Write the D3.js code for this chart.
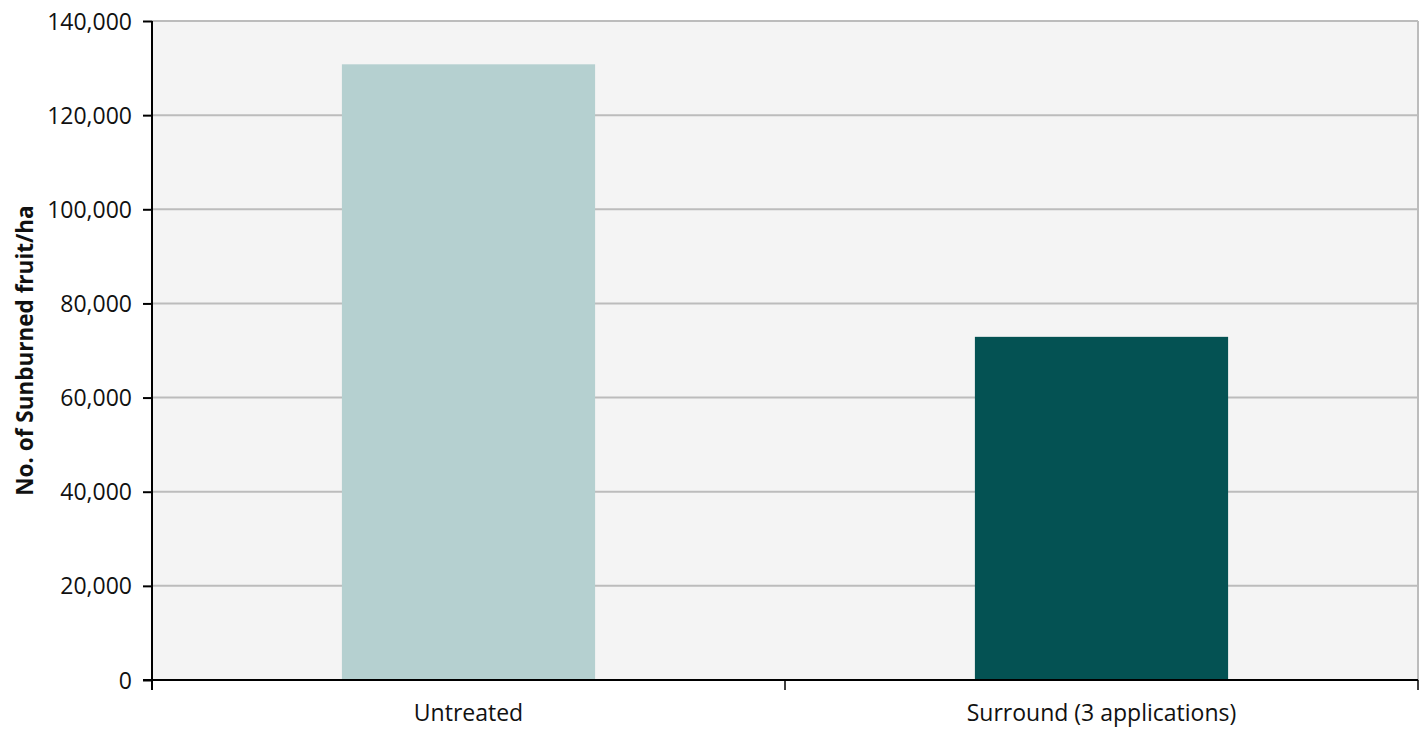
<!DOCTYPE html>
<html><head><meta charset="utf-8">
<script src="https://cdn.jsdelivr.net/npm/d3@7"></script>
<style>
html,body{margin:0;padding:0;background:#fff;}
svg{display:block;}
text{font-family:"Open Sans",sans-serif;fill:#111;}
</style></head>
<body><svg id="c" width="1426" height="731"></svg>
<script>
const categories = ["Untreated", "Surround (3 applications)"];
const values = [130800, 72900];
const barColors = ["#b5d0d0", "#045253"];
const yTicks = [0, 20000, 40000, 60000, 80000, 100000, 120000, 140000];
const yTitle = "No. of Sunburned fruit/ha";

const svg = d3.select("#c");
const m = {left:152, right:1418, top:21, bottom:680};

const x = d3.scaleBand().domain(categories).range([m.left, m.right]).paddingInner(0.6).paddingOuter(0.3);
const y = d3.scaleLinear().domain([0, 140000]).range([m.bottom, m.top]);

svg.append("rect").attr("x", m.left).attr("y", m.top).attr("width", m.right - m.left).attr("height", m.bottom - m.top).attr("fill", "#f4f4f4");

svg.append("g").selectAll("line").data(yTicks.filter(d => d > 0)).join("line")
  .attr("x1", m.left).attr("x2", m.right).attr("y1", d => y(d)).attr("y2", d => y(d))
  .attr("stroke", "#bcbcbc").attr("stroke-width", 2);
svg.append("line").attr("x1", m.right).attr("x2", m.right).attr("y1", m.top).attr("y2", m.bottom)
  .attr("stroke", "#bcbcbc").attr("stroke-width", 2);

svg.append("g").selectAll("rect").data(categories).join("rect")
  .attr("x", d => x(d)).attr("width", x.bandwidth())
  .attr("y", (d, i) => y(values[i])).attr("height", (d, i) => y(0) - y(values[i]))
  .attr("fill", (d, i) => barColors[i]);

const fmt = d3.format(",");
const yAxis = svg.append("g").attr("transform", `translate(${m.left},0)`)
  .call(d3.axisLeft(y).tickValues(yTicks).tickFormat(fmt).tickSize(9).tickPadding(11));
yAxis.selectAll("text").style("font-size", "23px").attr("dy", "0.35em");
yAxis.selectAll("line,path").attr("stroke", "#000").attr("stroke-width", 2);
yAxis.select("path").attr("d", `M0,${m.top}V${m.bottom + 10}`);

// x axis with ticks at category boundaries
const xAxisG = svg.append("g");
xAxisG.append("line").attr("x1", m.left - 9).attr("x2", m.right).attr("y1", m.bottom).attr("y2", m.bottom)
  .attr("stroke", "#000").attr("stroke-width", 2);
const bounds = [m.left, (x(categories[0]) + x(categories[1]) + x.bandwidth()) / 2, m.right];
xAxisG.selectAll("line.t").data(bounds).join("line").attr("class", "t")
  .attr("x1", d => d).attr("x2", d => d).attr("y1", m.bottom).attr("y2", m.bottom + 10)
  .attr("stroke", "#000").attr("stroke-width", 1.5);
xAxisG.selectAll("text").data(categories).join("text")
  .attr("x", d => x(d) + x.bandwidth() / 2).attr("y", 721)
  .attr("text-anchor", "middle").style("font-size", "23px").text(d => d);

svg.append("text").attr("transform", `translate(33,${(m.top + m.bottom) / 2}) rotate(-90)`)
  .attr("text-anchor", "middle").style("font-size", "22.5px").style("font-weight", "bold").text(yTitle);
</script></body></html>
